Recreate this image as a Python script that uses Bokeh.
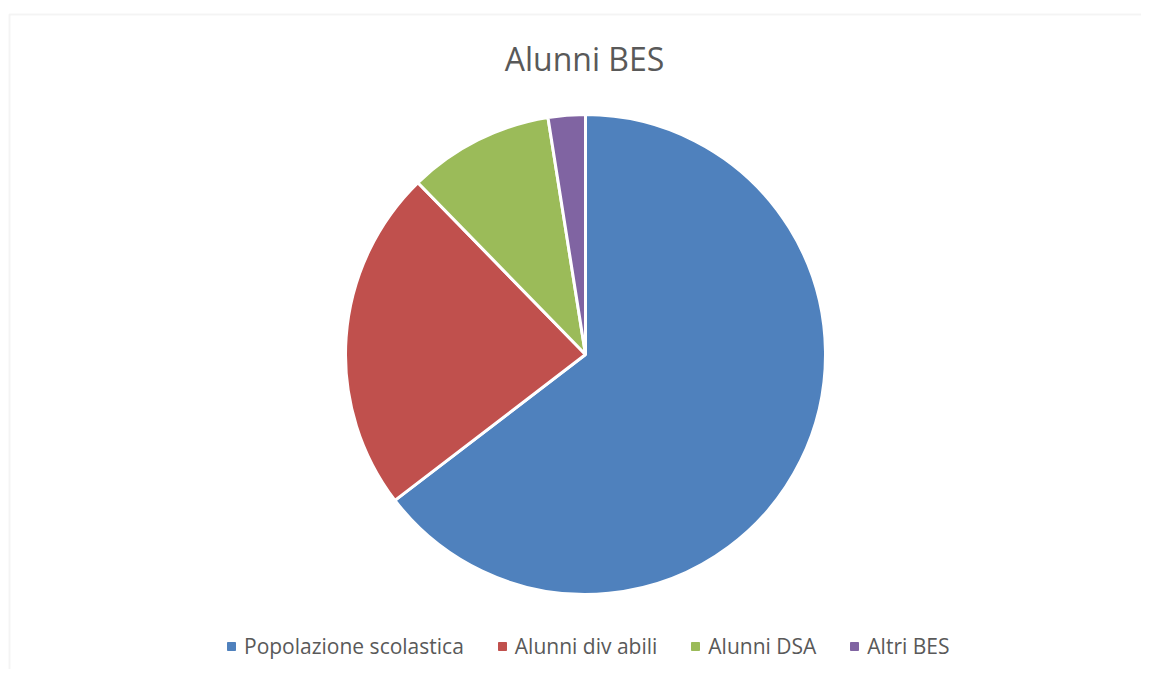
import math
from bokeh.plotting import figure
from bokeh.models import Legend, LegendItem, Label, BoxAnnotation, ColumnDataSource, Range1d
from bokeh.embed import file_html
from bokeh.resources import INLINE

# ---- data ----
categories = ["Popolazione scolastica", "Alunni div abili", "Alunni DSA", "Altri BES"]
values = [64.6, 23.1, 9.8, 2.5]
colors = ["#4F81BD", "#C0504D", "#9BBB59", "#8064A2"]
title_text = "Alunni BES"

W, H = 1141, 669
p = figure(width=W, height=H, output_backend="svg", toolbar_location=None,
           x_range=Range1d(0, W), y_range=Range1d(0, H),
           min_border=0, min_border_left=0, min_border_right=0,
           min_border_top=0, min_border_bottom=0)
p.axis.visible = False
p.grid.visible = False
p.outline_line_color = None
p.background_fill_color = "white"
p.border_fill_color = "white"

total = sum(values)
starts, ends = [], []
cum = 0.0
for v in values:
    starts.append(math.pi / 2 - 2 * math.pi * cum / total)
    cum += v
    ends.append(math.pi / 2 - 2 * math.pi * cum / total)

src = ColumnDataSource(dict(cat=categories, val=values, color=colors,
                            start=starts, end=ends))
cx, cy, r = 585, 315, 240
p.wedge(x=cx, y=cy, radius=r, start_angle="start", end_angle="end",
        direction="clock", fill_color="color", line_color="white",
        line_width=3, source=src)

# legend proxies (zero-size markers; the legend draws coloured squares)
items = []
for c, col in zip(categories, colors):
    rr = p.scatter(x=[cx], y=[cy], marker="square", fill_color=col,
                   line_color=col, size=0)
    items.append(LegendItem(label=c, renderers=[rr]))

legend = Legend(items=items, orientation="horizontal", location=(221, 9),
                glyph_width=20, glyph_height=20, label_standoff=3, spacing=28,
                padding=0, margin=0, border_line_color=None,
                background_fill_alpha=0, label_text_font="Open Sans",
                label_text_font_size="21px", label_text_color="#595959",
                label_height=20)
p.add_layout(legend, "center")

lbl = Label(x=584, y=611, text=title_text, text_align="center",
            text_baseline="middle", text_font="Open Sans",
            text_font_size="32px", text_color="#595959")
p.add_layout(lbl)

border = BoxAnnotation(left=9, right=W + 50, top=H - 14, bottom=-50,
                       fill_alpha=0, line_color="#D9D9D9", line_width=2)
p.add_layout(border)

open("out.html", "w").write(file_html(p, INLINE))
